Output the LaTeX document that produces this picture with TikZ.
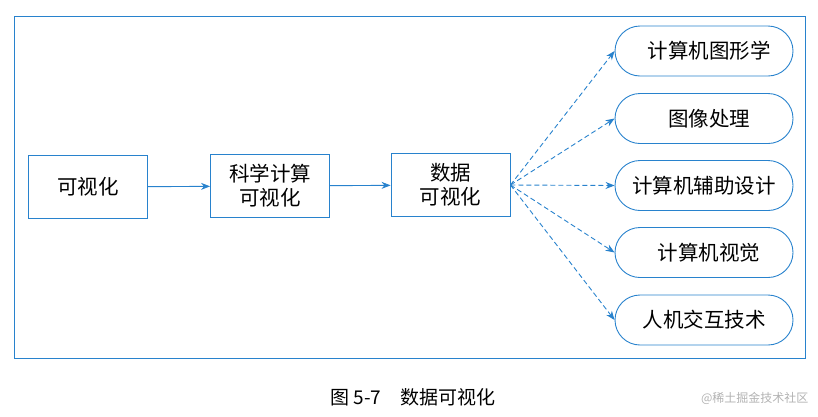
\documentclass[tikz,border=0pt]{standalone}
\usepackage{fontspec}
\setmainfont{Noto Sans CJK SC}
\usetikzlibrary{arrows.meta}
\definecolor{bl}{RGB}{40,130,205}
\begin{document}
\begin{tikzpicture}[x=1pt,y=-1pt,
  sq/.style={draw=bl,line width=0.9pt,minimum width=119pt,minimum height=63pt,align=center,font=\fontsize{20.5}{24}\selectfont,inner sep=0pt},
  rb/.style={draw=bl,line width=0.9pt,rounded corners=25pt,minimum width=178pt,minimum height=50pt,font=\fontsize{20.5}{24}\selectfont,inner sep=0pt},
  ar/.style={draw=bl,line width=0.9pt,-{Stealth[length=9pt,width=7pt]}},
  da/.style={ar,dash pattern=on 5pt off 3pt}]
\useasboundingbox (0,0) rectangle (818,416);
\node[draw=bl,line width=0.9pt,minimum width=791pt,minimum height=342pt,inner sep=0pt] (frame) at (409.5,187) {};
\node[sq] (a) at (88,187) {可视化};
\node[sq] (b) at (270,186) {科学计算\\可视化};
\node[sq] (c) at (450.5,185) {数据\\可视化};
\node[rb] (r1) at (704,51) {\hspace*{10pt}计算机图形学};
\node[rb] (r2) at (704,118.5) {\hspace*{10pt}图像处理};
\node[rb] (r3) at (704,185.5) {计算机辅助设计};
\node[rb] (r4) at (704,252.5) {\hspace*{10pt}计算机视觉};
\node[rb] (r5) at (704,320) {人机交互技术};
\draw[ar] (a) -- (b);
\draw[ar] (b) -- (c);
\foreach \r in {r1,r2,r3,r4,r5}{\draw[da] (c.east) -- (\r.west);}
\node[font=\fontsize{19}{22}\selectfont] (cap) at (413,397) {图 5-7\quad 数据可视化};
\node[font=\fontsize{12}{14}\selectfont,text=gray!60,anchor=east] (wm) at (812,398) {@稀土掘金技术社区};
\end{tikzpicture}
\end{document}
